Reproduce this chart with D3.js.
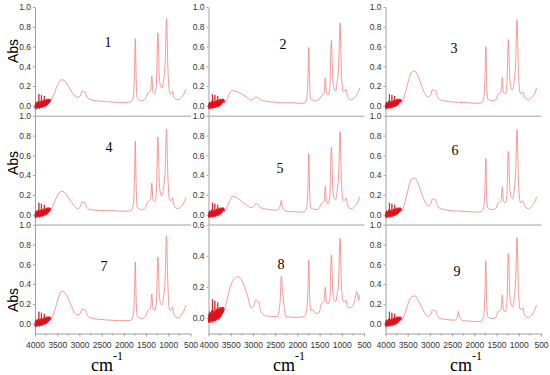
<!DOCTYPE html>
<html>
<head>
<meta charset="utf-8">
<script src="https://cdn.jsdelivr.net/npm/d3@7"></script>
<style>
  html, body { margin: 0; padding: 0; background: #fff; }
  svg { display: block; }
</style>
</head>
<body>
<script>
// ---------------- DATA ----------------
const PANEL_NAMES = ["1","2","3","4","5","6","7","8","9"];
const X_TICKS = [4000, 3500, 3000, 2500, 2000, 1500, 1000, 500];
const X_MINOR = [3750, 3250, 2750, 2250, 1750, 1250, 750];
const Y_TICKS_FULL = [0.0, 0.2, 0.4, 0.6, 0.8, 1.0];
const Y_TICKS_SHORT = [0.0, 0.2, 0.4, 0.6];
const Y_MAX = [1.0, 1.0, 1.0, 1.0, 1.0, 1.0, 1.0, 0.6, 1.0];

// noisy high-wavenumber region (shared by all spectra)
const NOISE_WN = [4000,3996,3992,3988,3984,3980,3976,3972,3968,3964,
                  3960,3956,3952,3948,3944,3940,3936,3932,3928,3924,
                  3920,3916,3912,3908,3904,3900,3896,3892,3888,3884,
                  3880,3876,3872,3868,3864,3860,3856,3852,3848,3844,
                  3840,3836,3832,3828,3824,3820,3816,3812,3808,3804,
                  3800,3796,3792,3788,3784,3780,3776,3772,3768,3764,
                  3760,3756,3752,3748,3744,3740,3736,3732,3728,3724,
                  3720,3716,3712,3708,3704,3700,3696,3692,3688,3684,
                  3680,3676,3672,3668,3664,3660,3656,3652,3648,3644];
const NOISE_A = [0.00,-0.03,0.02,-0.02,0.03,-0.01,0.04,-0.03,0.01,-0.02,
                 0.03,-0.02,0.02,-0.03,0.04,-0.01,0.02,-0.02,0.05,-0.01,
                 0.03,-0.02,0.12,-0.01,0.02,-0.03,0.04,-0.01,0.03,-0.02,
                 0.05,-0.01,0.02,-0.02,0.04,0.00,0.11,-0.02,0.03,-0.01,
                 0.04,-0.02,0.05,0.00,0.03,-0.01,0.06,-0.01,0.04,0.00,
                 0.05,-0.01,0.10,0.00,0.04,0.01,0.06,-0.01,0.05,0.01,
                 0.06,0.00,0.04,0.01,0.07,0.00,0.05,0.02,0.06,0.01,
                 0.07,0.01,0.05,0.02,0.06,0.02,0.07,0.03,0.05,0.03,
                 0.07,0.03,0.06,0.04,0.07,0.04,0.06,0.05,0.06,0.05];

// wavenumber grid of the main spectra (cm-1)
const WN = [3640,3580,3520,3460,3400, 3340,3280,3200,3120,3040,
            2980,2940,2900,2870,2830, 2760,2600,2450,2390,2360,
            2335,2250,2100,1950,1840, 1790,1760,1742,1725,1700,
            1660,1600,1520,1460,1430, 1400,1370,1345,1310,1270,
            1235,1200,1165,1140,1110, 1070,1040,1010,980,950,
            920,905,880,840,780, 720,660,620,600];

const S1 = [0.05,0.11,0.18,0.24,0.265, 0.255,0.22,0.16,0.11,0.085,
            0.10,0.15,0.14,0.14,0.09, 0.065,0.05,0.045,0.04,0.045,
            0.04,0.038,0.035,0.035,0.04, 0.08,0.35,0.68,0.30,0.08,
            0.06,0.05,0.07,0.13,0.14, 0.15,0.30,0.14,0.12,0.20,
            0.74,0.28,0.19,0.18,0.25, 0.45,0.88,0.40,0.16,0.12,
            0.13,0.15,0.10,0.07,0.06, 0.08,0.11,0.15,0.17];
const S2 = [0.03,0.07,0.13,0.155,0.15, 0.14,0.125,0.105,0.08,0.06,
            0.07,0.09,0.085,0.08,0.06, 0.05,0.04,0.035,0.03,0.035,
            0.03,0.03,0.03,0.025,0.03, 0.07,0.30,0.59,0.25,0.07,
            0.06,0.05,0.06,0.10,0.11, 0.13,0.28,0.13,0.11,0.18,
            0.66,0.25,0.16,0.15,0.22, 0.42,0.84,0.35,0.16,0.14,
            0.16,0.17,0.11,0.07,0.06, 0.08,0.11,0.15,0.18];
const S3 = [0.03,0.09,0.19,0.29,0.345, 0.35,0.31,0.22,0.13,0.09,
            0.11,0.17,0.155,0.155,0.09, 0.06,0.045,0.038,0.035,0.04,
            0.035,0.033,0.03,0.025,0.03, 0.07,0.30,0.60,0.26,0.07,
            0.06,0.05,0.06,0.12,0.13, 0.14,0.29,0.14,0.12,0.19,
            0.67,0.26,0.17,0.16,0.23, 0.44,0.87,0.38,0.15,0.12,
            0.13,0.14,0.10,0.07,0.06, 0.08,0.11,0.15,0.18];
const S4 = [0.05,0.11,0.17,0.22,0.235, 0.225,0.19,0.14,0.09,0.06,
            0.08,0.13,0.12,0.12,0.07, 0.05,0.045,0.04,0.04,0.045,
            0.04,0.04,0.035,0.035,0.04, 0.09,0.38,0.745,0.32,0.08,
            0.06,0.05,0.07,0.13,0.14, 0.15,0.32,0.15,0.13,0.21,
            0.785,0.30,0.20,0.19,0.26, 0.45,0.865,0.40,0.17,0.14,
            0.15,0.17,0.11,0.07,0.06, 0.08,0.11,0.15,0.17];
const S5 = [0.03,0.08,0.14,0.185,0.18, 0.165,0.145,0.115,0.09,0.07,
            0.085,0.11,0.105,0.10,0.07, 0.06,0.05,0.045,0.08,0.145,
            0.07,0.035,0.03,0.025,0.03, 0.07,0.31,0.62,0.26,0.07,
            0.06,0.05,0.06,0.11,0.12, 0.13,0.285,0.13,0.11,0.18,
            0.68,0.25,0.16,0.15,0.22, 0.42,0.84,0.35,0.16,0.14,
            0.16,0.17,0.11,0.07,0.06, 0.08,0.11,0.15,0.18];
const S6 = [0.03,0.10,0.20,0.31,0.365, 0.37,0.33,0.23,0.14,0.09,
            0.11,0.16,0.15,0.15,0.09, 0.06,0.045,0.038,0.035,0.04,
            0.035,0.033,0.03,0.025,0.03, 0.07,0.29,0.57,0.25,0.07,
            0.06,0.05,0.06,0.12,0.13, 0.14,0.28,0.14,0.12,0.18,
            0.64,0.25,0.17,0.16,0.23, 0.44,0.86,0.38,0.15,0.12,
            0.13,0.14,0.10,0.07,0.06, 0.08,0.11,0.15,0.18];
const S7 = [0.04,0.10,0.19,0.28,0.325, 0.32,0.28,0.20,0.12,0.085,
            0.10,0.15,0.14,0.14,0.09, 0.06,0.045,0.04,0.035,0.04,
            0.035,0.033,0.03,0.03,0.035, 0.08,0.32,0.625,0.27,0.08,
            0.06,0.05,0.07,0.13,0.14, 0.15,0.30,0.15,0.13,0.20,
            0.675,0.28,0.20,0.19,0.26, 0.46,0.89,0.40,0.16,0.13,
            0.15,0.17,0.11,0.07,0.06, 0.08,0.12,0.16,0.19];
const S8 = [0.05,0.12,0.19,0.235,0.258, 0.266,0.255,0.21,0.14,0.065,
            0.08,0.115,0.11,0.105,0.05, 0.02,0.01,0.01,0.10,0.27,
            0.18,0.01,0.005,0.005,0.01, 0.05,0.20,0.374,0.17,0.05,
            0.055,0.03,0.03,0.09,0.10, 0.11,0.198,0.10,0.09,0.12,
            0.406,0.16,0.11,0.105,0.14, 0.25,0.514,0.23,0.12,0.10,
            0.11,0.115,0.08,0.065,0.07, 0.10,0.17,0.11,0.15];
const S9 = [0.03,0.08,0.16,0.24,0.275, 0.28,0.25,0.18,0.11,0.075,
            0.09,0.14,0.13,0.13,0.08, 0.05,0.04,0.035,0.05,0.125,
            0.07,0.03,0.025,0.02,0.025, 0.07,0.32,0.635,0.27,0.07,
            0.06,0.05,0.06,0.12,0.13, 0.14,0.29,0.14,0.12,0.20,
            0.71,0.27,0.18,0.17,0.24, 0.45,0.87,0.38,0.16,0.14,
            0.15,0.16,0.10,0.07,0.06, 0.08,0.12,0.16,0.19];
const SPECTRA = [S1,S2,S3,S4,S5,S6,S7,S8,S9];

// ---------------- LAYOUT ----------------
const W = 550, H = 375;
const COL_X = [35, 208.5, 385.5];
const PW = 155.5;
const ROW_Y = [7, 115.8, 224.8];
const PH = 108.7;
const LABEL_XY = [[108,47],[283,49],[454,52.5],[109,151.5],[280,173],[455,155],[104,270.5],[281,269],[457,275.5]];
const ABS_Y = [51, 163, 300];
const CM_X = [91, 273, 450];

const AXIS_COL = "#a0a0a0";
const TEXT_COL = "#333";
const SANS = "'Liberation Sans', Arial, sans-serif";
const SERIF = "'Liberation Serif', 'Times New Roman', serif";

const svg = d3.select("body").append("svg").attr("width", W).attr("height", H);

function styleAxis(g) {
  g.selectAll(".domain").attr("stroke", AXIS_COL).attr("stroke-width", 1);
  g.selectAll(".tick line").attr("stroke", AXIS_COL);
  g.selectAll(".tick text").attr("fill", TEXT_COL).style("font-family", SANS).style("font-size", "8.5px");
}

SPECTRA.forEach((vals, i) => {
  const col = i % 3, row = Math.floor(i / 3);
  const x = d3.scaleLinear().domain([4000, 500]).range([COL_X[col], COL_X[col] + PW]);
  const y = d3.scaleLinear().domain([-0.1, Y_MAX[i]]).range([ROW_Y[row] + PH, ROW_Y[row]]);
  const g = svg.append("g");

  // bottom axis
  const xb = g.append("g").attr("transform", `translate(0,${ROW_Y[row] + PH})`);
  if (row < 2) {
    xb.call(d3.axisBottom(x).tickValues([]).tickSizeOuter(0));
  } else {
    xb.call(d3.axisBottom(x).tickValues(X_TICKS).tickSize(3).tickSizeOuter(0).tickPadding(5).tickFormat(d3.format("d")));
    xb.selectAll(".minor").data(X_MINOR).enter().append("line")
      .attr("x1", d => x(d)).attr("x2", d => x(d)).attr("y1", 0).attr("y2", 2)
      .attr("stroke", AXIS_COL);
  }
  styleAxis(xb);

  // left axis
  const yt = Y_MAX[i] === 1.0 ? Y_TICKS_FULL : Y_TICKS_SHORT;
  const ya = g.append("g").attr("transform", `translate(${COL_X[col]},0)`)
    .call(d3.axisLeft(y).tickValues(yt).tickSize(2).tickSizeOuter(0).tickPadding(2).tickFormat(d3.format(".1f")));
  styleAxis(ya);

  // noise segment
  const noise = NOISE_WN.map((w, k) => [w, NOISE_A[k]]);
  noise.push([WN[0], vals[0]]);
  g.append("path").datum(noise)
    .attr("fill", "none").attr("stroke", "#e0101a").attr("stroke-width", 0.8)
    .attr("d", d3.line().x(d => x(d[0])).y(d => y(d[1])));

  // main spectrum
  const pts = WN.map((w, k) => [w, vals[k]]);
  g.append("path").datum(pts)
    .attr("fill", "none").attr("stroke", "#f07f7f").attr("stroke-width", 0.8)
    .attr("d", d3.line().curve(d3.curveMonotoneX).x(d => x(d[0])).y(d => y(d[1])));

  // panel number
  g.append("text").attr("x", LABEL_XY[i][0]).attr("y", LABEL_XY[i][1])
    .attr("text-anchor", "middle").style("font-family", SERIF).style("font-size", "14px")
    .attr("fill", "#000").text(PANEL_NAMES[i]);
});

// Abs labels
ABS_Y.forEach(cy => {
  svg.append("text").attr("transform", `translate(18,${cy}) rotate(-90)`)
    .attr("text-anchor", "middle").style("font-family", SANS).style("font-size", "14px")
    .attr("fill", "#000").text("Abs");
});

// cm-1 labels
CM_X.forEach(cx => {
  const t = svg.append("text").attr("x", cx).attr("y", 371)
    .style("font-family", SERIF).style("font-size", "18px").attr("fill", "#000");
  t.append("tspan").text("cm");
  t.append("tspan").attr("dy", -11).style("font-size", "12px").text("-1");
});
</script>
</body>
</html>
